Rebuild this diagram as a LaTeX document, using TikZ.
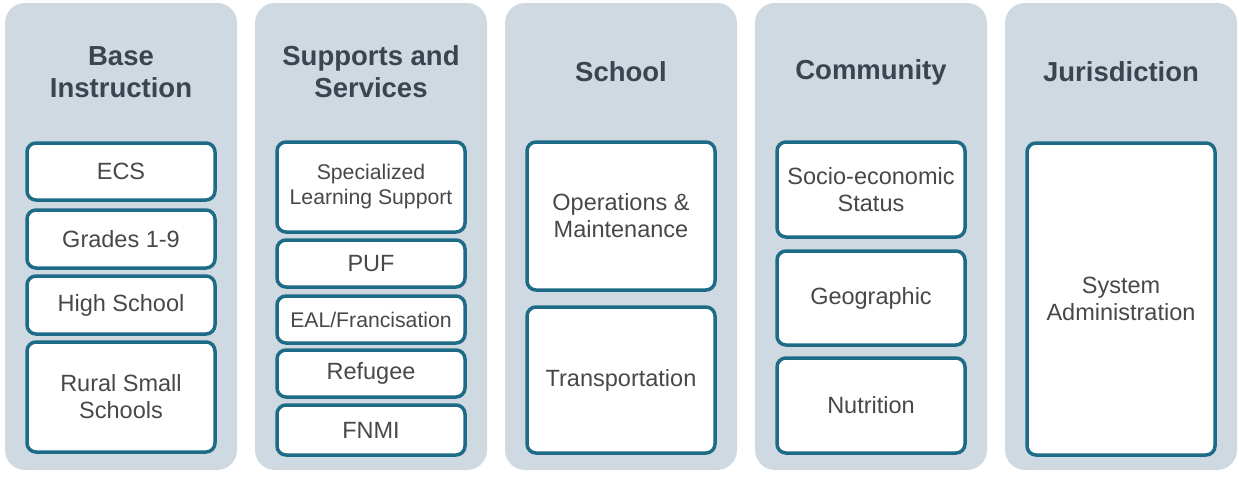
\documentclass[tikz,border=0pt]{standalone}
\usepackage{fontspec}
\setmainfont{Liberation Sans}
\definecolor{panelfill}{HTML}{CFD9E1}
\definecolor{itemline}{HTML}{1D6B87}
\definecolor{headtext}{HTML}{3A4550}
\definecolor{itemtext}{HTML}{484848}
\tikzset{
  panel/.style={rectangle, rounded corners=20pt, fill=panelfill,
    minimum width=232pt, minimum height=467pt, inner sep=0pt},
  head/.style={align=center, text=headtext, inner sep=0pt,
    font=\fontsize{27.5}{32}\selectfont\bfseries},
  item/.style={rectangle, rounded corners=9pt, draw=itemline, line width=3.5pt,
    fill=white, minimum width=188pt, align=center, text=itemtext, inner sep=0pt,
    font=\fontsize{23.5}{27}\selectfont},
  small/.style={font=\fontsize{21.2}{25}\selectfont}
}
\begin{document}
\begin{tikzpicture}[x=1pt,y=-1pt]
  \useasboundingbox (0,0) rectangle (1239,477);
  % columns
  \node[panel] (pBase) at (121,236.5) {};
  \node[panel] (pSupp) at (371,236.5) {};
  \node[panel] (pSchool) at (621,236.5) {};
  \node[panel] (pComm) at (871,236.5) {};
  \node[panel] (pJuris) at (1121,236.5) {};
  % headings
  \node[head] (hBase) at (121,72) {Base\\Instruction};
  \node[head] (hSupp) at (371,72) {Supports and\\Services};
  \node[head] (hSchool) at (621,72) {School};
  \node[head] (hComm) at (871,72) {Community};
  \node[head] (hJuris) at (1121,72) {Jurisdiction};
  % base instruction
  \node[item, minimum height=57pt] (ecs) at (121,171.5) {ECS};
  \node[item, minimum height=58pt] (grades) at (121,239) {Grades 1-9};
  \node[item, minimum height=58pt] (high) at (121,305) {High School};
  \node[item, minimum height=110pt] (rural) at (121,397) {Rural Small\\Schools};
  % supports and services
  \node[item, small, minimum height=90pt] (sls) at (371,187) {Specialized\\Learning Support};
  \node[item, minimum height=47pt] (puf) at (371,263.5) {PUF};
  \node[item, small, minimum height=47pt] (eal) at (371,319.5) {EAL/Francisation};
  \node[item, minimum height=47pt] (refugee) at (371,373.5) {Refugee};
  \node[item, minimum height=50pt] (fnmi) at (371,430) {FNMI};
  % school
  \node[item, minimum height=148pt] (ops) at (621,216) {Operations \&\\Maintenance};
  \node[item, minimum height=146pt] (transp) at (621,380) {Transportation};
  % community
  \node[item, minimum height=95pt] (ses) at (871,189.5) {Socio-economic\\Status};
  \node[item, minimum height=94pt] (geo) at (871,298) {Geographic};
  \node[item, minimum height=95pt] (nutr) at (871,405.5) {Nutrition};
  % jurisdiction
  \node[item, minimum height=312pt] (sysadm) at (1121,299) {System\\Administration};
\end{tikzpicture}
\end{document}
